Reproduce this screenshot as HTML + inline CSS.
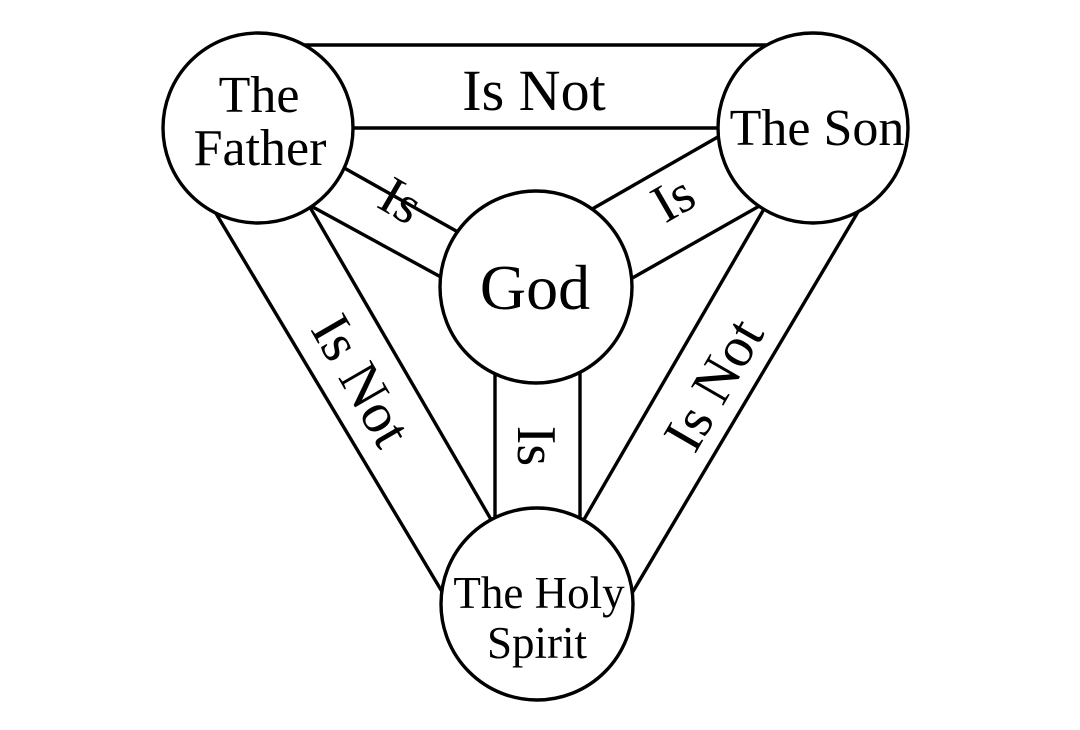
<!DOCTYPE html>
<html><head><meta charset="utf-8"><style>html,body{margin:0;padding:0;background:#fff}svg{display:block}</style></head>
<body>
<svg width="1080" height="730" viewBox="0 0 1080 730" xmlns="http://www.w3.org/2000/svg" font-family="'Liberation Serif', serif" fill="#000">
<g stroke="#000" stroke-width="3.4" fill="none">
<line x1="290" y1="45" x2="790" y2="45"/>
<line x1="340" y1="128" x2="740" y2="128"/>
<line x1="330" y1="160" x2="490" y2="250"/>
<line x1="300" y1="200" x2="450" y2="282"/>
<line x1="580" y1="216" x2="730" y2="130"/>
<line x1="620" y1="285" x2="770" y2="200"/>
<line x1="495" y1="360" x2="495" y2="530"/>
<line x1="580" y1="360" x2="580" y2="530"/>
<line x1="205" y1="195" x2="450" y2="605"/>
<line x1="300" y1="190" x2="500" y2="535"/>
<line x1="868" y1="195" x2="625" y2="605"/>
<line x1="775" y1="190" x2="575" y2="535"/>
</g>
<g stroke="#000" stroke-width="3.4" fill="#fff">
<circle cx="258" cy="128" r="95"/>
<circle cx="813" cy="128" r="95"/>
<circle cx="536" cy="287" r="96"/>
<circle cx="537" cy="604" r="96"/>
</g>
<g text-anchor="middle">
<text x="259" y="112" font-size="52">The</text>
<text x="260" y="165" font-size="52">Father</text>
<text x="817" y="145" font-size="52">The Son</text>
<text x="535" y="309" font-size="64">God</text>
<text x="539" y="608" font-size="45">The Holy</text>
<text x="537" y="658" font-size="45">Spirit</text>
<text x="534" y="110" font-size="58">Is Not</text>
<text transform="translate(392,216) rotate(30)" font-size="54">Is</text>
<text transform="translate(682,214) rotate(-30)" font-size="54">Is</text>
<text transform="translate(518,446) rotate(90)" font-size="56">Is</text>
<text transform="translate(345,390) rotate(60)" font-size="57">Is Not</text>
<text transform="translate(730,394) rotate(-60)" font-size="57">Is Not</text>
</g>
</svg>
</body></html>
